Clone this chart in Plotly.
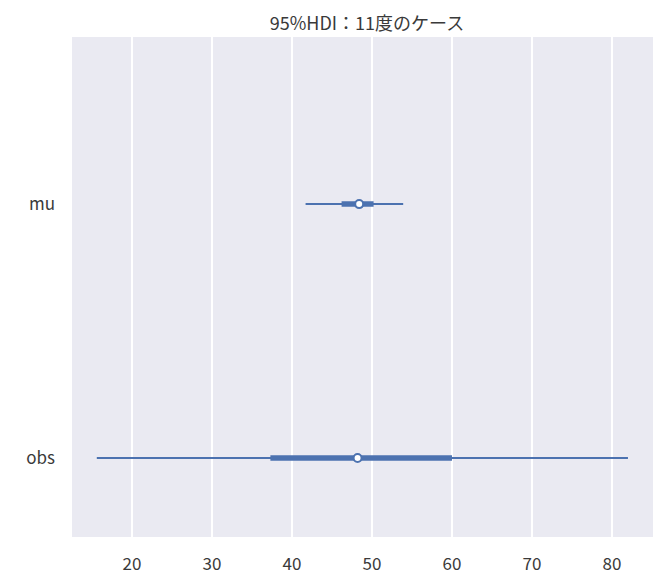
import plotly.graph_objects as go

variables = ["obs", "mu"]
y_pos = [0, 1]
hdi95_low = [15.6, 41.7]
hdi95_high = [82.0, 53.9]
iqr_low = [37.3, 46.2]
iqr_high = [60.0, 50.2]
medians = [48.2, 48.4]

color = "#4c72b0"
fig = go.Figure()
for i in range(len(variables)):
    fig.add_trace(go.Scatter(x=[hdi95_low[i], hdi95_high[i]], y=[y_pos[i], y_pos[i]],
                             mode="lines", line=dict(color=color, width=2), showlegend=False, hoverinfo="skip"))
    fig.add_trace(go.Scatter(x=[iqr_low[i], iqr_high[i]], y=[y_pos[i], y_pos[i]],
                             mode="lines", line=dict(color=color, width=5.5), showlegend=False, hoverinfo="skip"))
    fig.add_trace(go.Scatter(x=[medians[i]], y=[y_pos[i]], mode="markers",
                             marker=dict(color="white", size=8, line=dict(color=color, width=2)),
                             showlegend=False))

fig.update_layout(
    width=671, height=587,
    margin=dict(l=64, r=26, t=29, b=58),
    paper_bgcolor="white", plot_bgcolor="#eaeaf2",
    font=dict(family="Noto Sans CJK JP, DejaVu Sans", size=17, color="#3a3a3a"),
    title=dict(text="95%HDI：11度のケース", x=0.535, xanchor="center", y=0.974, yanchor="middle",
               font=dict(size=18, color="#3a3a3a")),
    xaxis=dict(range=[12.5, 85.13], tickvals=[20, 30, 40, 50, 60, 70, 80],
               showgrid=True, gridcolor="white", gridwidth=1.5, zeroline=False,
               ticks="", ticklabelstandoff=15, showline=False),
    yaxis=dict(range=[-0.311, 1.658], tickvals=y_pos, ticktext=variables,
               showgrid=False, zeroline=False, ticks="", ticklabelstandoff=16, showline=False),
)
fig.write_html("out.html")
